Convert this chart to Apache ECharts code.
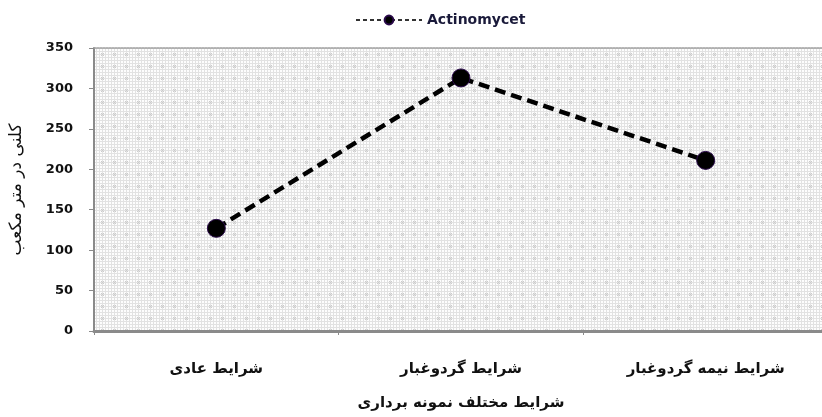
<!DOCTYPE html>
<html>
<head>
<meta charset="utf-8">
<script src="https://cdn.jsdelivr.net/npm/echarts@6/dist/echarts.min.js"></script>
<style>html,body{margin:0;padding:0;background:#fff}#c{width:822px;height:417px}</style>
</head>
<body>
<div id="c"></div>
<script>
var categories = ['شرایط عادی', 'شرایط گردوغبار', 'شرایط نیمه گردوغبار'];
var seriesName = 'Actinomycet';
var values = [127, 313, 211];
var yTicks = [0, 50, 100, 150, 200, 250, 300, 350];
var yTitle = 'کلنی در متر مکعب';
var xTitle = 'شرایط مختلف نمونه برداری';

function makePattern() {
  var c = document.createElement('canvas');
  c.width = 12; c.height = 12;
  var g = c.getContext('2d');
  g.fillStyle = '#fdfdfd';
  g.fillRect(0, 0, 12, 12);
  g.fillStyle = '#e2e2e2';
  for (var i = 0; i < 12; i += 3) {
    g.fillRect(i, 0, 1, 12);
    g.fillRect(0, i, 12, 1);
  }
  g.fillStyle = '#cccccc';
  g.fillRect(5, 5, 1, 1); g.fillRect(7, 7, 1, 1);
  g.fillRect(7, 5, 1, 1); g.fillRect(5, 7, 1, 1);
  g.fillRect(6, 6, 1, 1);
  return c;
}

var chart = echarts.init(document.getElementById('c'), null, {renderer: 'canvas'});
chart.setOption({
  animation: false,
  backgroundColor: '#ffffff',
  textStyle: {fontFamily: 'DejaVu Sans'},
  legend: {
    top: 8,
    left: 350,
    itemWidth: 66,
    itemHeight: 11,
    itemGap: 6,
    lineStyle: {width: 2, type: [4, 3], color: '#333'},
    textStyle: {fontSize: 14, fontWeight: 'bold', color: '#1a1a3a', fontFamily: 'DejaVu Sans'},
    data: [seriesName]
  },
  grid: {
    left: 94, top: 48, right: -6, bottom: 86,
    outerBoundsMode: 'none',
    containLabel: false,
    show: true,
    backgroundColor: {image: makePattern(), repeat: 'repeat'},
    borderWidth: 0
  },
  xAxis: [{
    type: 'category',
    data: categories,
    boundaryGap: true,
    name: xTitle,
    nameLocation: 'middle',
    nameGap: 65,
    nameTextStyle: {fontSize: 15, fontWeight: 'bold', color: '#111', fontFamily: 'DejaVu Sans'},
    axisLine: {lineStyle: {color: '#8a8a8a', width: 3}},
    axisTick: {show: true, length: 4, lineStyle: {color: '#8a8a8a'}},
    axisLabel: {margin: 31, fontSize: 15, fontWeight: 'bold', color: '#111', fontFamily: 'DejaVu Sans'},
    splitLine: {show: false}
  }, {
    type: 'category',
    data: categories,
    position: 'top',
    axisLine: {show: true, lineStyle: {color: '#a0a0a0', width: 1.5, type: [2, 1]}},
    axisTick: {show: false},
    axisLabel: {show: false},
    splitLine: {show: false}
  }],
  yAxis: {
    type: 'value',
    min: 0, max: 350, interval: 50,
    name: yTitle,
    nameLocation: 'middle',
    nameGap: 69,
    nameRotate: 90,
    nameTextStyle: {fontSize: 17, color: '#111', fontFamily: 'DejaVu Sans'},
    axisLine: {show: true, lineStyle: {color: '#8a8a8a', width: 2}},
    axisTick: {show: true, length: 5, lineStyle: {color: '#8a8a8a'}},
    axisLabel: {margin: 21, fontSize: 13, fontWeight: 'bold', color: '#111', fontFamily: 'DejaVu Sans',
      formatter: function (v) { return yTicks.indexOf(v) >= 0 ? String(v) : ''; }},
    splitLine: {show: false}
  },
  series: [{
    name: seriesName,
    type: 'line',
    xAxisIndex: 0,
    data: values,
    symbol: 'circle',
    symbolSize: 18,
    itemStyle: {color: '#000000', borderColor: '#2a0a4a', borderWidth: 1},
    lineStyle: {color: '#000000', width: 4.5, type: [11, 6]}
  }]
});
</script>
</body>
</html>
